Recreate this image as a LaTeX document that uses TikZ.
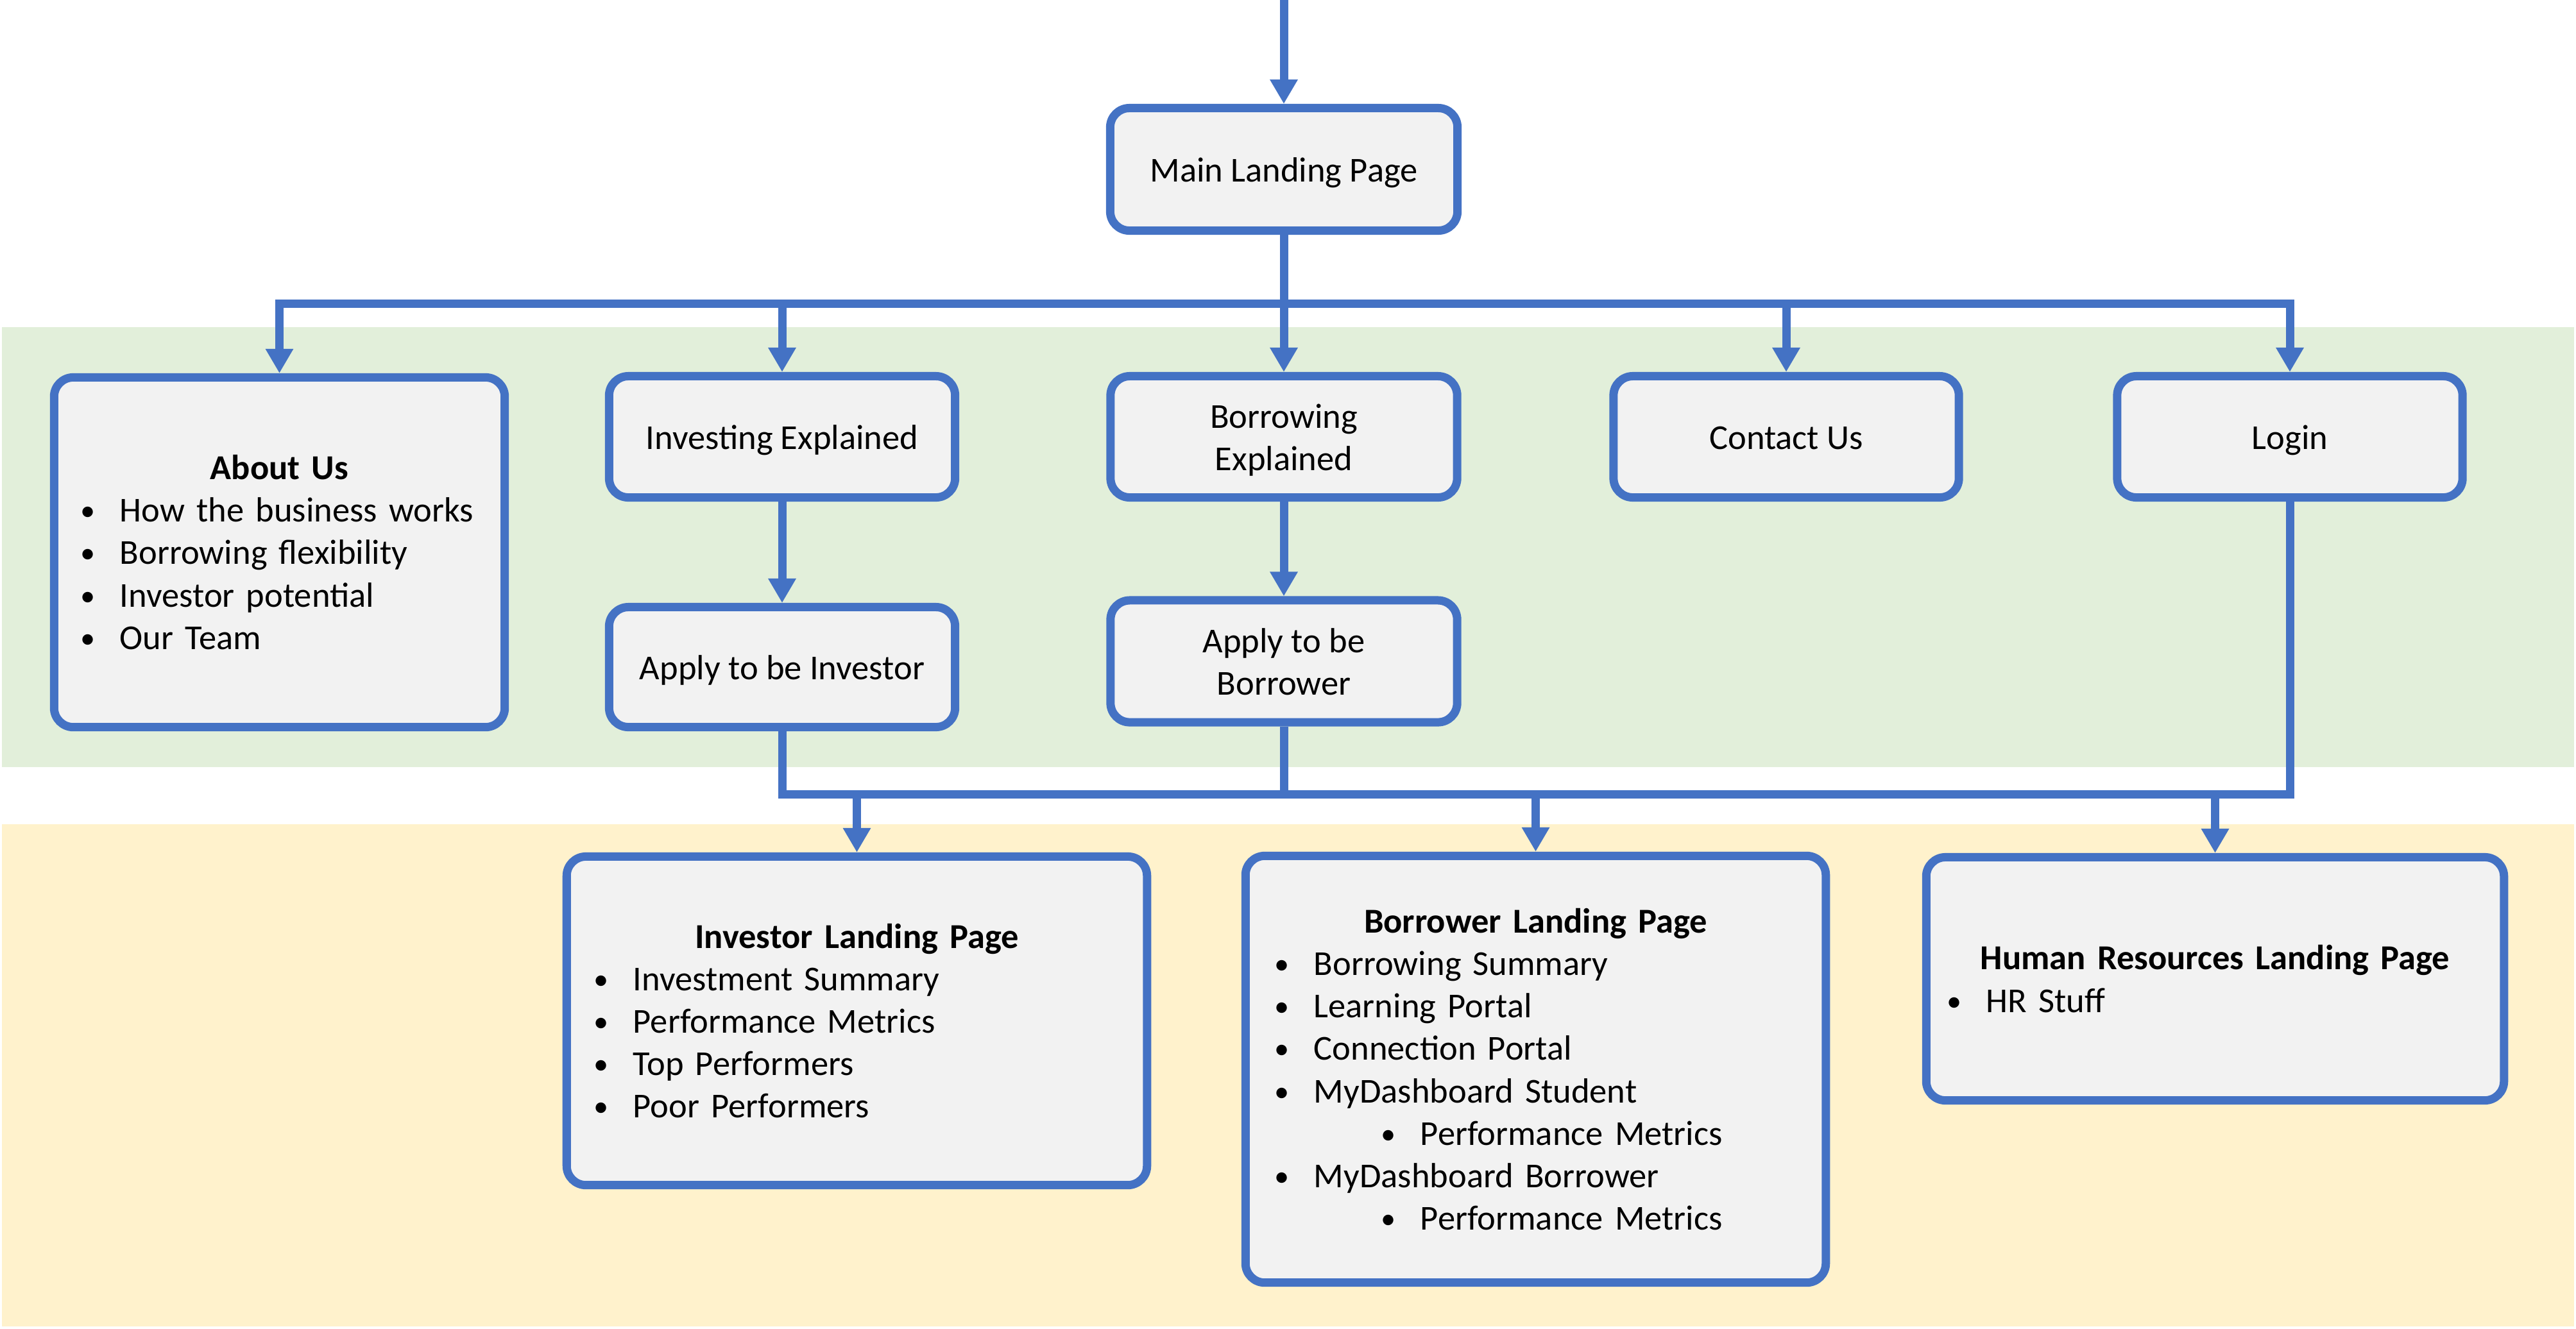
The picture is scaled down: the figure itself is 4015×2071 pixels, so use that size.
\documentclass[tikz,border=0pt]{standalone}
\usepackage{fontspec}
\setmainfont{Carlito}
\usetikzlibrary{arrows.meta,calc}
\definecolor{bblue}{HTML}{4472C4}
\definecolor{boxgray}{HTML}{F2F2F2}
\definecolor{greenbg}{HTML}{E2EFDA}
\definecolor{yellowbg}{HTML}{FFF2CC}
\newcommand\bul{\makebox[0.63cm][l]{\hspace*{0.02cm}\raisebox{0.02cm}{\scalebox{0.85}{\textbullet}}}}
\newcommand\subbul{\hspace*{1.66cm}\bul}
\newcommand\ttl[1]{\makebox[\linewidth]{\bfseries #1}}
\newcommand\lw[1]{\raisebox{-0.065cm}[\height][\depth]{\begin{tabular}{@{}c@{}}#1\end{tabular}}}
\begin{document}
\begin{tikzpicture}[x=0.01cm,y=-0.01cm,
  pbox/.style={draw=bblue, line width=0.13cm, fill=boxgray, rounded corners=0.3cm,
    font=\fontsize{15.5pt}{18.8pt}\selectfont, inner sep=0pt, align=center},
  conn/.style={draw=bblue, line width=0.13cm},
  arr/.style={conn, -{Triangle[width=0.41cm,length=0.38cm]}}]
\useasboundingbox (0,0) rectangle (4015,2071);
\fill[greenbg] (3,510) rectangle (4012,1196);
\fill[yellowbg] (3,1285) rectangle (4012,2068);

% top row
\node[pbox, minimum width=5.41cm, minimum height=1.91cm] (main) at (2001,264) {\lw{Main Landing Page}};

\node[pbox, minimum width=7.02cm, minimum height=5.45cm, inner xsep=0.395cm, text width=6.23cm, align=left] (about) at (435.5,861)
 {\ttl{About Us}\\ \bul How the business works\\ \bul Borrowing flexibility\\ \bul Investor potential\\ \bul Our Team};
\node[pbox, minimum width=5.39cm, minimum height=1.89cm] (iexp) at (1219,681) {\lw{Investing Explained}};
\node[pbox, minimum width=5.39cm, minimum height=1.87cm] (iapp) at (1219,1040) {\lw{Apply to be Investor}};
\node[pbox, minimum width=5.40cm, minimum height=1.89cm] (bexp) at (2001,681) {\lw{Borrowing\\Explained}};
\node[pbox, minimum width=5.40cm, minimum height=1.90cm] (bapp) at (2001,1031) {\lw{Apply to be\\Borrower}};
\node[pbox, minimum width=5.38cm, minimum height=1.89cm] (contact) at (2784,681) {\lw{Contact Us}};
\node[pbox, minimum width=5.38cm, minimum height=1.89cm] (login) at (3569,681) {\lw{Login}};

% landing pages
\node[pbox, minimum width=9.04cm, minimum height=5.12cm, inner xsep=0.405cm, text width=8.23cm, align=left] (ilp) at (1335.5,1591.5)
 {\ttl{Investor Landing Page}\\ \bul Investment Summary\\ \bul Performance Metrics\\ \bul Top Performers\\ \bul Poor Performers};
\node[pbox, minimum width=9.04cm, minimum height=6.65cm, inner xsep=0.435cm, text width=8.17cm, align=left] (blp) at (2393.5,1667)
 {\ttl{Borrower Landing Page}\\ \bul Borrowing Summary\\ \bul Learning Portal\\ \bul Connection Portal\\ \bul MyDashboard Student\\ \subbul Performance Metrics\\ \bul MyDashboard Borrower\\ \subbul Performance Metrics};
\node[pbox, minimum width=9.00cm, minimum height=3.79cm, inner xsep=0.305cm, text width=8.39cm, align=left] (hr) at (3452.5,1526)
 {\ttl{Human Resources Landing Page}\\ \bul HR Stuff};

% connectors
\coordinate (top) at (2001,0);
\draw[arr] (top) -- (main.north);
\coordinate (bar1) at (2001,473);
\draw[conn] (main.south) -- (bar1);
\draw[arr] (bar1) -| (about.north);
\draw[arr] (bar1) -| (iexp.north);
\draw[arr] (bar1) -- (bexp.north);
\draw[arr] (bar1) -| (contact.north);
\draw[arr] (bar1) -| (login.north);
\draw[arr] (iexp.south) -- (iapp.north);
\draw[arr] (bexp.south) -- (bapp.north);
\coordinate (yb) at (0,1238);
\draw[conn] (iapp.south) |- (login.south |- yb) -- (login.south);
\draw[conn] (bapp.south) -- (bapp.south |- yb);
\draw[arr] (ilp.north |- yb) -- (ilp.north);
\draw[arr] (blp.north |- yb) -- (blp.north);
\draw[arr] (hr.north |- yb) -- (hr.north);
\end{tikzpicture}
\end{document}
